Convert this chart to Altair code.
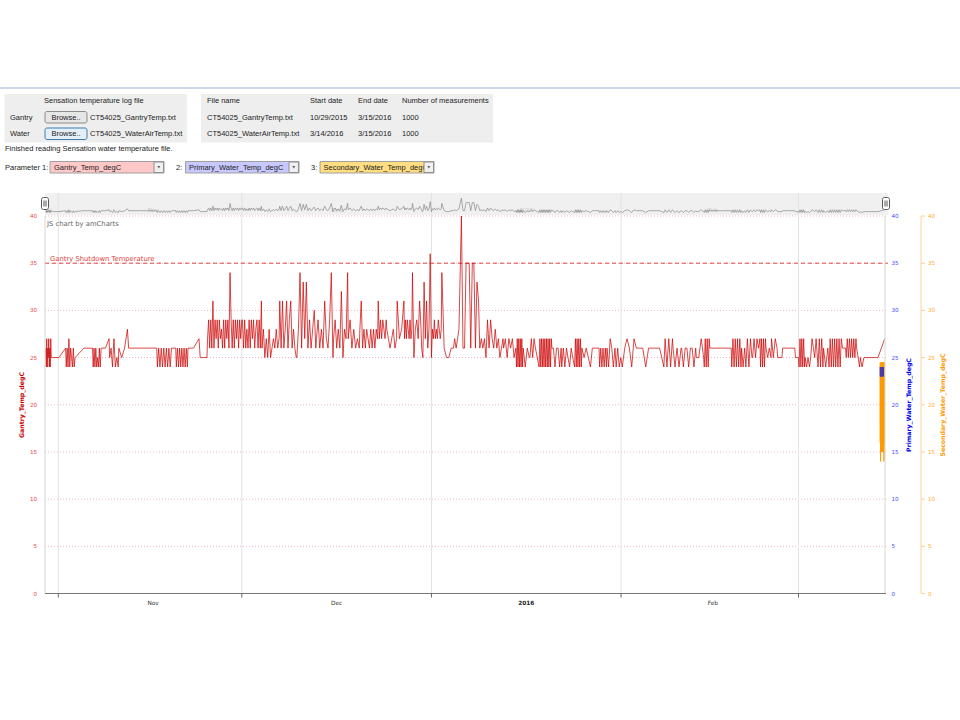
import altair as alt
import pandas as pd

# ---------------- data ----------------
BASE = pd.Timestamp("2015-11-01 00:00")   # day offsets below are counted from this date

seg_start = [
    -2.05, -1.0, 1.3, 2.75, 5.7, 7.1, 8.4, 9.9, 11.5, 16.2, 18.6, 19.3, 21.2, 23.2,
    24.4, 30.1, 33.3, 36.2, 39.0, 42.2, 45.0, 47.4, 49.3, 52.3, 53.7, 55.4, 56.6, 57.9,
    59.4, 61.0, 62.7, 64.8, 65.9, 68.9, 72.8, 74.9,
    76.0, 77.1, 78.6, 80.7, 82.3, 84.4, 85.6, 87.3, 88.5, 89.7, 91.2, 92.6, 94.6, 96.6,
    98.3, 99.2, 100.5, 101.9, 104.3, 105.6, 106.5, 110.1, 111.7, 112.4, 113.5, 114.8,
    115.7, 116.6, 117.6, 118.4, 120.5, 121.1, 122.1, 123.0, 124.2, 125.1, 126.0, 128.2,
    128.8, 130.5, 131.1, 132.2, 134.0,
]
seg_end = [
    -1.15, 1.2, 2.6, 5.6, 7.0, 8.3, 9.8, 11.3, 16.1, 18.5, 19.2, 21.1, 23.0, 24.3,
    30.0, 33.2, 36.1, 38.9, 42.1, 44.9, 47.3, 49.2, 52.2, 53.6, 55.3, 56.5, 57.8, 59.3,
    60.8, 62.6, 64.6, 65.5, 68.7, 72.7, 74.8, 75.9,
    77.0, 78.0, 80.6, 82.2, 84.1, 85.5, 87.0, 88.4, 89.6, 91.0, 92.2, 94.5, 96.5, 98.2,
    99.0, 100.4, 101.8, 104.2, 105.5, 106.4, 110.0, 111.6, 112.2, 113.4, 114.7, 115.6,
    116.5, 117.5, 118.3, 120.4, 121.0, 122.0, 122.8, 124.1, 125.0, 125.8, 128.0, 128.7,
    130.4, 131.0, 132.0, 133.8, 135.1,
]
seg_values = [
    [26, 24, 27, 24, 26, 25, 27, 24, 26, 24, 27, 25],
    [25, 25, 26],
    [24, 26, 24, 27, 24, 26, 25, 24, 26, 24],
    [25, 26, 26],
    [24, 26, 24, 26, 24, 25, 24, 26, 24, 26],
    [26, 26, 27],
    [25, 26, 24, 27, 24, 25, 24],
    [26, 25, 26, 28],
    [26, 26, 26],
    [24, 26, 24, 26, 24, 26, 24, 26, 24, 26, 24, 26],
    [26, 26],
    [24, 26, 24, 26, 24, 26, 24, 26, 24, 26, 24],
    [26, 26, 27],
    [25, 25, 25],
    [27, 29, 26, 29, 26, 31, 26, 29, 27, 29, 26, 29, 27, 28, 26, 29, 26, 29, 27, 29, 26,
     34, 29, 26, 29, 26, 29, 27, 29, 26, 29, 27, 29],
    [29, 26, 29, 26, 28, 26, 29, 26, 29, 27, 29, 26, 28, 29, 26, 29, 26, 31],
    [26, 28, 25, 27, 25, 28, 25, 26, 27, 26, 28, 26, 27],
    [31, 26, 31, 26, 28, 31, 26, 29, 31, 26, 28, 26, 25],
    [25, 28, 34, 26, 33, 27, 33, 26, 29, 26, 28, 30, 26],
    [27, 29, 26, 28, 26, 31, 27, 26, 29, 34, 25],
    [27, 29, 26, 28, 26, 32, 25, 28, 27, 34],
    [27, 29, 26, 28, 26, 27, 26],
    [28, 31, 26, 28, 26, 28, 27, 26, 28, 26, 28, 26, 28, 27],
    [31, 27, 29, 27, 29, 28, 27, 29],
    [28, 27, 26, 27, 28, 26, 27],
    [31, 27, 28, 31],
    [27, 29, 27, 29, 28, 27, 29, 27, 28],
    [34, 25, 28, 29, 27, 31, 28],
    [26, 25, 33, 27, 31, 26, 28, 36],
    [25, 28, 27, 29, 27, 28, 27, 29, 28, 27, 28],
    [34, 26, 25, 25, 26, 26],
    [27, 26, 27, 28],
    [40, 26, 26, 35, 35, 35, 26, 35, 35, 26, 33, 31],
    [26, 27, 26, 27, 25, 29, 26, 29, 27, 26, 28, 26, 27, 25, 26, 27],
    [26, 27, 25, 27, 26, 27, 25, 26],
    [24, 27, 24, 27, 24, 27, 24, 27, 24],
    [26, 24, 26, 25],
    [25, 27, 25, 27, 26],
    [24, 27, 24, 27, 24, 27, 24, 27, 24, 27, 24, 27, 24, 27, 24, 27],
    [26, 26, 24, 26, 26, 24, 26],
    [24, 26, 24, 26, 25, 24, 26, 25],
    [24, 27, 24, 27, 24, 27, 24, 27, 24],
    [26, 25, 26, 25, 24],
    [26, 26, 26],
    [24, 26, 24, 26, 24, 26, 24],
    [26, 24, 27, 26, 24, 26],
    [24, 26, 24, 25, 24],
    [26, 27, 26, 24, 27, 26],
    [26, 26, 26, 24, 26],
    [26, 26, 26],
    [26, 25, 24],
    [27, 24, 27, 24, 27],
    [26, 24, 26, 24, 26],
    [26, 24, 26, 26, 24, 26, 26, 24, 26],
    [25, 25, 27, 25],
    [24, 27, 24, 27, 24, 27],
    [26, 26, 26],
    [24, 27, 24, 27, 24, 27, 24, 27, 24],
    [26, 24, 26],
    [24, 27, 24, 27, 25],
    [25, 27, 25, 27, 26, 27],
    [24, 27, 24, 27, 24, 27],
    [26, 25, 26, 25],
    [27, 25, 27, 26],
    [25, 25],
    [26, 26, 26],
    [25, 25],
    [24, 27, 24, 27, 24, 27, 24],
    [25, 24, 25, 24],
    [25, 27, 26, 25, 27, 25],
    [24, 27, 24, 27, 24],
    [26, 24, 26],
    [24, 27, 24, 27, 24, 27, 24, 27, 24, 27, 24, 27],
    [26, 26],
    [25, 27, 25, 27, 25, 27, 25, 27, 25, 27],
    [26, 24],
    [25, 24, 25, 25],
    [25, 25, 25],
    [25, 26, 27],
]

# water file (3/14/2016 - 3/15/2016)
secondary_span = [134.35, 135.05]
secondary_values = [24.5, 16, 24, 14, 24, 15, 24.5, 18, 24, 15, 23.5, 15.5, 24.5, 16, 24, 15,
                    24.5, 17, 24, 15.5, 24, 16, 24.5, 15, 24, 15.5, 24.5, 14, 24, 16, 24.5]
primary_span = [134.35, 134.9]
primary_values = [24, 23, 23.8, 23, 24, 23.2, 23.9, 23, 24, 23.1, 23.9, 23, 24, 23.2, 23.8, 23, 24]

shutdown_temp = [35]
y_ticks = [0, 5, 10, 15, 20, 25, 30, 35, 40]
month_starts = ["2015-11-01", "2015-12-01", "2016-01-01", "2016-02-01", "2016-03-01"]
month_label_dates = ["2015-11-16 12:00", "2015-12-16 12:00", "2016-01-16 12:00", "2016-02-16 00:00"]
month_label_text = ["Nov", "Dec", "2016", "Feb"]


def spread(d0, d1, vals):
    n = len(vals)
    out = []
    for i, v in enumerate(vals):
        d = d0 + (d1 - d0) * i / (n - 1) if n > 1 else d0
        out.append({"time": BASE + pd.Timedelta(days=d), "temp": v})
    return out


rows = []
for d0, d1, vals in zip(seg_start, seg_end, seg_values):
    rows += spread(d0, d1, vals)
gantry = pd.DataFrame(rows)
secondary = pd.DataFrame(spread(secondary_span[0], secondary_span[1], secondary_values))
primary = pd.DataFrame(spread(primary_span[0], primary_span[1], primary_values))

ticks = pd.DataFrame({"v": y_ticks, "lbl": [str(v) for v in y_ticks]})
months = pd.DataFrame({"date": pd.to_datetime(month_starts)})
mlabels = pd.DataFrame({"date": pd.to_datetime(month_label_dates), "lbl": month_label_text})
shutdown = pd.DataFrame({"v": shutdown_temp, "lbl": ["Gantry Shutdown Temperature"]})

# ---------------- styling ----------------
CF = "DejaVu Sans"
UF = "Liberation Sans"

XS = alt.Scale(
    domain=[alt.DateTime(year=2015, month=10, date=29, hours=19, minutes=50),
            alt.DateTime(year=2016, month=3, date=15, hours=3, minutes=30)],
    range=[45, 885],
)
YS = alt.Scale(domain=[0, 40], range=[593.5, 216])
XT = lambda f: alt.X(f, scale=XS, axis=None)
YT = lambda f: alt.Y(f, scale=YS, axis=None)


def one():
    return pd.DataFrame({"k": [0]})


def txt(s, x, y, size=7.5, color="#222222", align="left", weight="normal", font=UF, angle=0):
    return alt.Chart(pd.DataFrame({"t": [s]})).mark_text(
        align=align, baseline="middle", fontSize=size, color=color,
        fontWeight=weight, font=font, angle=angle,
    ).encode(x=alt.value(x), y=alt.value(y), text="t:N")


def box(x1, y1, x2, y2, fill, stroke=None, sw=1, radius=0):
    kw = {"fill": fill}
    if stroke:
        kw["stroke"] = stroke
        kw["strokeWidth"] = sw
    if radius:
        kw["cornerRadius"] = radius
    return alt.Chart(one()).mark_rect(**kw).encode(
        x=alt.value(x1), x2=alt.value(x2), y=alt.value(y1), y2=alt.value(y2))


def line(x1, y1, x2, y2, color, w=1):
    return alt.Chart(one()).mark_rule(color=color, strokeWidth=w).encode(
        x=alt.value(x1), x2=alt.value(x2), y=alt.value(y1), y2=alt.value(y2))


def arrow(x, y):
    return alt.Chart(one()).mark_point(shape="triangle-down", filled=True, size=9, color="#222").encode(
        x=alt.value(x), y=alt.value(y))


layers = []

# ---- top UI panel ----
layers += [
    line(0, 88, 960, 88, "#b9cbe0", 1.5),
    box(4.5, 94, 187, 142.5, "#eeeeee"),
    box(201, 94, 493, 142.5, "#eeeeee"),
    txt("Sensation temperature log file", 44, 101),
    txt("Gantry", 10, 117.5),
    txt("Water", 10, 134),
    box(45, 111.5, 87, 123, "#e6e6e6", "#8c8c8c", 1, 2),
    txt("Browse..", 66, 117.5, align="center"),
    box(45, 128, 87, 139.5, "#e3eef7", "#3c7fb1", 1, 2),
    txt("Browse..", 66, 134, align="center"),
    txt("CT54025_GantryTemp.txt", 90, 117.5),
    txt("CT54025_WaterAirTemp.txt", 90, 134),
    txt("File name", 207, 101),
    txt("Start date", 310, 101),
    txt("End date", 358, 101),
    txt("Number of measurements", 402, 101),
    txt("CT54025_GantryTemp.txt", 207, 117.5),
    txt("10/29/2015", 310, 117.5),
    txt("3/15/2016", 358, 117.5),
    txt("1000", 402, 117.5),
    txt("CT54025_WaterAirTemp.txt", 207, 134),
    txt("3/14/2016", 310, 134),
    txt("3/15/2016", 358, 134),
    txt("1000", 402, 134),
    txt("Finished reading Sensation water temperature file.", 5, 148.5),
    txt("Parameter 1:", 5, 167.5),
    box(50, 161.5, 164, 173, "#ffc8c8", "#a0a0a0"),
    txt("Gantry_Temp_degC", 54, 167.5),
    box(154, 162, 163.5, 172.5, "#f0f0f0", "#909090"),
    arrow(158.8, 167.2),
    txt("2:", 176, 167.5),
    box(185.5, 161.5, 299, 173, "#c8c8ff", "#a0a0a0"),
    txt("Primary_Water_Temp_degC", 189, 167.5),
    box(289, 162, 298.5, 172.5, "#f0f0f0", "#909090"),
    arrow(293.8, 167.2),
    txt("3:", 311, 167.5),
    box(320, 161.5, 434, 173, "#ffdd80", "#a0a0a0"),
    txt("Secondary_Water_Temp_degC", 323.5, 167.5),
    box(424, 162, 433.5, 172.5, "#f0f0f0", "#909090"),
    arrow(428.8, 167.2),
]

# ---- scrollbar background ----
layers.append(box(45, 193, 888, 215, "#f0f0f0"))

# ---- main chart (shared y scale) ----
hgrid = alt.Chart(ticks[ticks.v > 0]).mark_rule(color="#f0b4be", strokeDash=[1, 2]).encode(
    y=YT("v:Q"), x=alt.value(45), x2=alt.value(888))
vgrid = alt.Chart(months).mark_rule(color="#e2e2e2").encode(
    x=XT("date:T"), y=alt.value(193), y2=alt.value(593.5))
xticks = alt.Chart(months).mark_rule(color="#666666").encode(
    x=XT("date:T"), y=alt.value(593.5), y2=alt.value(597.5))
dashed = alt.Chart(shutdown).mark_rule(color="#e04848", strokeDash=[4, 3]).encode(
    y=YT("v:Q"), x=alt.value(45), x2=alt.value(888))
dashed_lbl = alt.Chart(shutdown).mark_text(
    align="left", baseline="bottom", dy=-1.5, fontSize=6.8, font=CF, color="#e04040").encode(
    y=YT("v:Q"), x=alt.value(50), text="lbl:N")
g_line = alt.Chart(gantry).mark_line(color="#cc0000", strokeWidth=0.85, opacity=0.85).encode(
    x=XT("time:T"), y=YT("temp:Q"))
s_line = alt.Chart(secondary).mark_line(color="#ff9900", strokeWidth=1).encode(
    x=XT("time:T"), y=YT("temp:Q"))
p_line = alt.Chart(primary).mark_line(color="#4a3aa8", strokeWidth=1).encode(
    x=XT("time:T"), y=YT("temp:Q"))
left_lbl = alt.Chart(ticks).mark_text(align="right", baseline="middle", fontSize=5.6, font=CF,
                                      color="#ee4444").encode(y=YT("v:Q"), x=alt.value(37), text="lbl:N")
blue_lbl = alt.Chart(ticks).mark_text(align="left", baseline="middle", fontSize=5.6, font=CF,
                                      color="#4848ff").encode(y=YT("v:Q"), x=alt.value(891.5), text="lbl:N")
orange_lbl = alt.Chart(ticks).mark_text(align="left", baseline="middle", fontSize=5.6, font=CF,
                                        color="#ffaa33").encode(y=YT("v:Q"), x=alt.value(928), text="lbl:N")
orange_ticks = alt.Chart(ticks).mark_rule(color="#ffcf8f").encode(
    y=YT("v:Q"), x=alt.value(921), x2=alt.value(925))
mlab = alt.Chart(mlabels[mlabels.lbl != "2016"]).mark_text(
    baseline="middle", fontSize=5.8, font=CF, color="#333333").encode(
    x=XT("date:T"), y=alt.value(603), text="lbl:N")
mlab_b = alt.Chart(mlabels[mlabels.lbl == "2016"]).mark_text(
    baseline="middle", fontSize=5.8, font=CF, fontWeight="bold", color="#222222").encode(
    x=XT("date:T"), y=alt.value(603), text="lbl:N")
scroll_lab = alt.Chart(mlabels).mark_text(
    baseline="middle", fontSize=5.5, font=CF, color="#c4c4c4").encode(
    x=XT("date:T"), y=alt.value(210), text="lbl:N")

main = alt.layer(
    hgrid, vgrid, scroll_lab, dashed, dashed_lbl, g_line, s_line, p_line,
    line(45, 216, 45, 593.5, "#d6d6d6"),
    line(885, 216, 885, 593.5, "#d6d6d6"),
    line(921, 216, 921, 593.5, "#ffd49a"),
    orange_ticks,
    line(45, 593.5, 886, 593.5, "#777777"),
    xticks, left_lbl, blue_lbl, orange_lbl, mlab, mlab_b,
    txt("JS chart by amCharts", 47, 223.5, size=6.8, color="#666666", font=CF),
    txt("Gantry_Temp_degC", 22, 405, size=6.2, color="#cc0000", weight="bold", font=CF, angle=270, align="center"),
    txt("Primary_Water_Temp_degC", 909, 405, size=6.2, color="#0000ee", weight="bold", font=CF, angle=270, align="center"),
    txt("Secondary_Water_Temp_degC", 943, 405, size=6.2, color="#ff9900", weight="bold", font=CF, angle=270, align="center"),
)

# ---- scrollbar mini graph (own y scale) ----
scroll = alt.Chart(gantry).mark_line(color="#8a8a8a", strokeWidth=0.7).encode(
    x=XT("time:T"),
    y=alt.Y("temp:Q", scale=alt.Scale(domain=[24, 40], range=[212.5, 198]), axis=None),
)

handles = [
    box(41.5, 197.5, 48.5, 209.5, "#ffffff", "#555555", 1, 2),
    line(44, 200.5, 44, 206.5, "#555555"),
    line(46, 200.5, 46, 206.5, "#555555"),
    box(882.5, 197.5, 889.5, 209.5, "#ffffff", "#555555", 1, 2),
    line(885, 200.5, 885, 206.5, "#555555"),
    line(887, 200.5, 887, 206.5, "#555555"),
]

chart = alt.layer(*layers, main, scroll, *handles).resolve_scale(y="independent").properties(
    width=960, height=720, padding=0, background="white",
    autosize=alt.AutoSizeParams(type="none"),
).configure_view(strokeWidth=0, stroke="transparent")

chart.save("out.html", embed_options={"renderer": "svg", "actions": False})
